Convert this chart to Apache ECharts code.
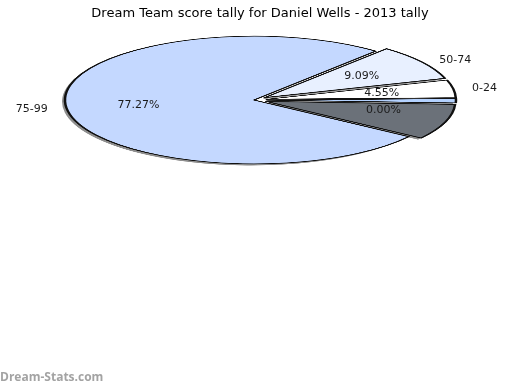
<!DOCTYPE html>
<html>
<head>
<meta charset="utf-8">
<script src="https://cdn.jsdelivr.net/npm/echarts@6/dist/echarts.min.js"></script>
<style>
  html, body { margin: 0; padding: 0; background: #ffffff; }
  #stage { position: relative; width: 520px; height: 390px; overflow: hidden; }
  /* the disc is drawn round, then squashed vertically into an ellipse */
  #disc { position: absolute; left: 0; top: -120px; width: 520px; height: 440px;
          transform: scaleY(0.338); transform-origin: 0 220px; }
  #text { position: absolute; left: 0; top: 0; width: 520px; height: 390px; }
</style>
</head>
<body>
<div id="stage">
  <div id="disc"></div>
  <div id="text"></div>
</div>
<script>
// score bands and how many rounds fell into each
const categories = ['75-99', '50-74', '0-24', '100+', '25-49'];
const tallies = [17, 2, 1, 0, 2];
const sliceColors = ['#c4d8ff', '#e8f0ff', '#ffffff', '#b4d2ff', '#6b7179'];
const pulledOut = [false, true, true, true, true];
const namedBands = ['75-99', '50-74', '0-24'];
const hiddenPercent = ['25-49'];

const TILT = 0.338;          // ellipse height / width
const CX = 254, CY = 100;    // centre of the ellipse on the page
const R = 189;               // horizontal radius
const DISC_MID = 220;        // vertical centre inside the squashed layer
const START = 325, MIN_ANGLE = 4, PULL = 13;
const SHADOW_DX = -3, SHADOW_DY = 1.6;   // page pixels

const font = 'DejaVu Sans, sans-serif';

function discPie(extra) {
  return Object.assign({
    type: 'pie',
    silent: true,
    radius: [0, R],
    startAngle: START,
    minAngle: MIN_ANGLE,
    clockwise: true,
    selectedMode: 'multiple',
    selectedOffset: PULL,
    avoidLabelOverlap: false,
    label: { show: false },
    labelLine: { show: false },
    emphasis: { disabled: true }
  }, extra);
}

// ---- the coloured, outlined disc with its drop shadow ----
const disc = echarts.init(document.getElementById('disc'), null, { renderer: 'canvas' });
disc.setOption({
  animation: false,
  series: [
    // flat grey copy underneath, nudged down-left
    discPie({
      center: [CX + SHADOW_DX, DISC_MID + SHADOW_DY / TILT],
      itemStyle: { color: '#8e8e8e', borderWidth: 0 },
      select: { itemStyle: { color: '#8e8e8e', borderWidth: 0 } },
      data: categories.map((name, i) => ({ name, value: tallies[i], selected: pulledOut[i] }))
    }),
    discPie({
      center: [CX, DISC_MID],
      select: { itemStyle: { borderColor: '#111', borderWidth: 2.5 } },
      data: categories.map((name, i) => ({
        name,
        value: tallies[i],
        selected: pulledOut[i],
        itemStyle: { color: sliceColors[i], borderColor: '#111', borderWidth: 2.5 }
      }))
    })
  ]
});

// ---- title, labels and footer, drawn unsquashed on top ----
// Labels are laid out on a round pie; pull them vertically onto the ellipse.
// The pulled-out offset is added after this step, so its vertical part is
// squashed here as well, using the direction of the slice's own anchor point.
function squashLabel(params) {
  const r = params.labelRect;
  const mx = r.x + r.width / 2, my = r.y + r.height / 2;
  let dy = (my - CY) * (TILT - 1);
  if (pulledOut[params.dataIndex]) {
    const pts = params.labelLinePoints;
    const ax = pts ? pts[0][0] : mx;
    const ay = pts ? pts[0][1] : my;
    const d = Math.hypot(ax - CX, ay - CY) || 1;
    dy += (ay - CY) / d * PULL * (TILT - 1);
  }
  return { dy };
}

// the empty band's label would sit on its neighbour's, so drop it below
function percentLayout(params) {
  const out = squashLabel(params);
  if (tallies[params.dataIndex] === 0) out.dy += 10;
  return out;
}

function labelPie(extra) {
  return Object.assign({
    type: 'pie',
    silent: true,
    center: [CX, CY],
    startAngle: START,
    minAngle: MIN_ANGLE,
    clockwise: true,
    selectedMode: 'multiple',
    selectedOffset: PULL,
    avoidLabelOverlap: false,
    emphasis: { disabled: true },
    labelLine: { show: false },
    itemStyle: { color: 'rgba(0,0,0,0)', borderWidth: 0 },
    select: { itemStyle: { color: 'rgba(0,0,0,0)', borderWidth: 0 } }
  }, extra);
}

const text = echarts.init(document.getElementById('text'), null, { renderer: 'canvas' });
text.setOption({
  animation: false,
  backgroundColor: 'transparent',
  title: {
    text: 'Dream Team score tally for Daniel Wells - 2013 tally',
    left: 'center',
    top: 2,
    textStyle: { fontFamily: font, fontSize: 13, fontWeight: 'normal', color: '#000' }
  },
  graphic: [{
    type: 'text',
    left: 0,
    top: 372,
    style: { text: 'Dream-Stats.com', font: 'bold 12px "Open Sans", sans-serif', fill: '#a3a3a3' }
  }],
  series: [
    labelPie({
      radius: [38, R],
      label: {
        show: true,
        position: 'inner',
        fontFamily: font,
        fontSize: 11,
        color: '#1a1a1a',
        formatter: p => p.percent.toFixed(2) + '%'
      },
      labelLayout: percentLayout,
      data: categories.map((name, i) => ({
        name,
        value: tallies[i],
        selected: pulledOut[i],
        label: { show: hiddenPercent.indexOf(name) < 0 }
      }))
    }),
    labelPie({
      radius: [0, R],
      label: {
        show: true,
        position: 'outside',
        fontFamily: font,
        fontSize: 11,
        color: '#1a1a1a',
        formatter: '{b}'
      },
      labelLine: { show: false, length: 10, length2: 4 },
      labelLayout: squashLabel,
      data: categories.map((name, i) => ({
        name,
        value: tallies[i],
        selected: pulledOut[i],
        label: { show: namedBands.indexOf(name) >= 0 }
      }))
    })
  ]
});
</script>
</body>
</html>
